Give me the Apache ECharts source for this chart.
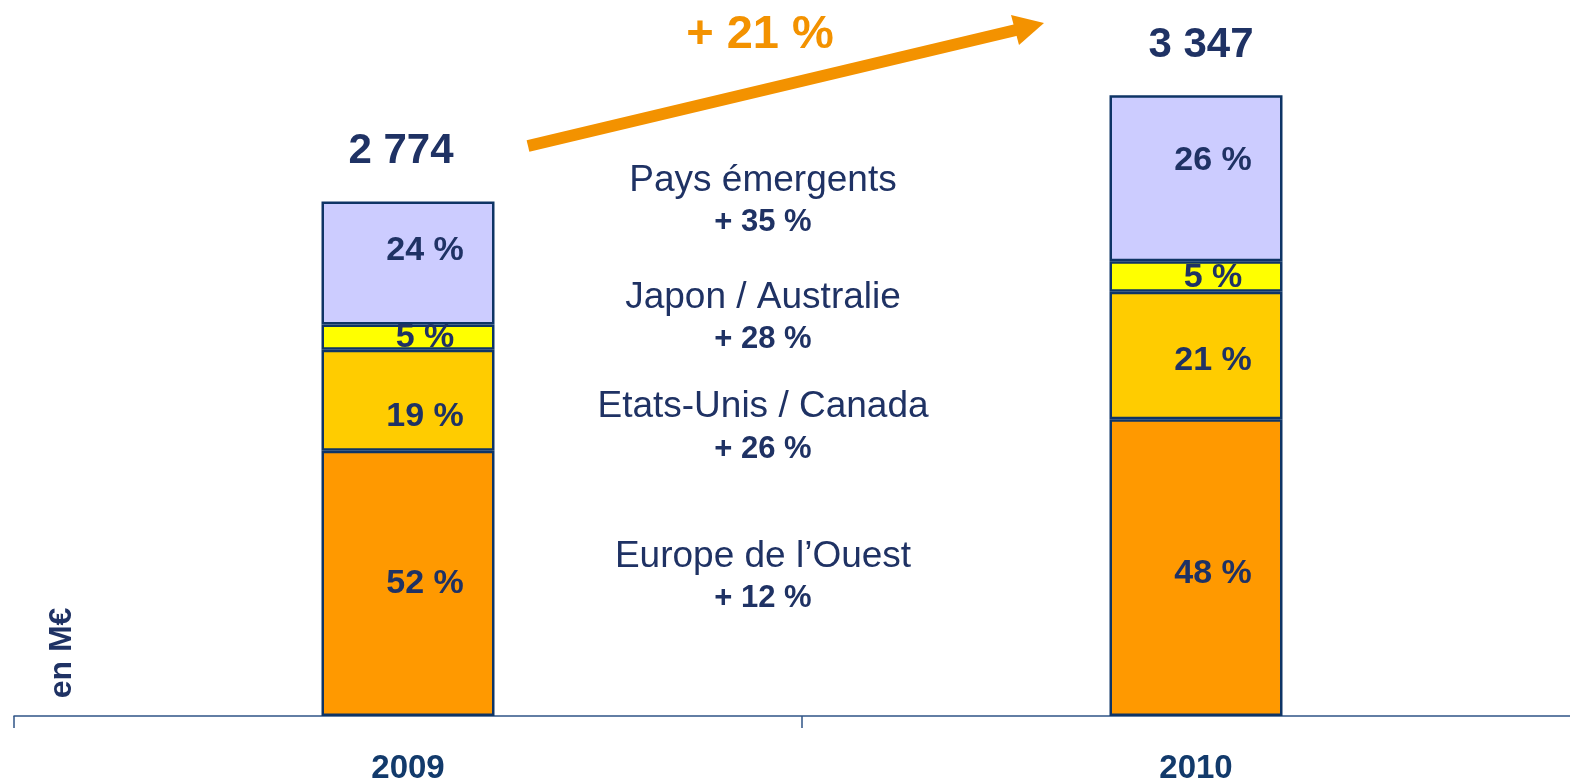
<!DOCTYPE html>
<html>
<head>
<meta charset="utf-8">
<script src="https://cdn.jsdelivr.net/npm/echarts@6/dist/echarts.min.js"></script>
<style>html,body{margin:0;padding:0;background:#fff;}#c{width:1570px;height:780px;}</style>
</head>
<body>
<div id="c"></div>
<script>
// ---- data ----
var categories = ['2009', '2010'];
var seriesNames = ["Europe de l’Ouest", 'Etats-Unis / Canada', 'Japon / Australie', 'Pays émergents'];
var europe = [1430, 1600];
var usCanada = [545, 687];
var japonAustralie = [135, 164];
var emergents = [664, 896];
var europePct = ['52 %', '48 %'];
var usCanadaPct = ['19 %', '21 %'];
var japonPct = ['5 %', '5 %'];
var emergentsPct = ['24 %', '26 %'];
var totals = ['2 774', '3 347'];
var growthLabels = ['+ 12 %', '+ 26 %', '+ 28 %', '+ 35 %'];
var totalGrowth = '+ 21 %';
var unitLabel = 'en M€';

// ---- styles ----
var FONT = '"Liberation Sans", Arial, sans-serif';
var NAVY = '#1F3264';
var BORDER = '#0E3466';
var colors = ['#FF9900', '#FFCC00', '#FFFF00', '#CCCCFF'];
var labelOffsets = [
  [[17, 0], [17, 6]],
  [[17, 16], [17, 5]],
  [[17, 0], [17, 1]],
  [[17, -12], [17, -18]]
];
var totalOffsets = [[-7, 0], [5, 0]];
var valuesList = [europe, usCanada, japonAustralie, emergents];
var pctList = [europePct, usCanadaPct, japonPct, emergentsPct];

var chart = echarts.init(document.getElementById('c'));

var series = valuesList.map(function (vals, si) {
  return {
    name: seriesNames[si],
    type: 'bar',
    stack: 'total',
    barWidth: 173,
    itemStyle: { color: colors[si], borderColor: BORDER, borderWidth: 2.5 },
    data: vals.map(function (v, i) {
      return {
        value: v,
        label: {
          show: true,
          position: 'inside',
          offset: labelOffsets[si][i],
          formatter: pctList[si][i],
          fontFamily: FONT,
          fontWeight: 'bold',
          fontSize: 34,
          color: NAVY
        }
      };
    })
  };
});

series.push({
  name: 'Total',
  type: 'bar',
  stack: 'total',
  barWidth: 173,
  itemStyle: { color: 'transparent', borderWidth: 0 },
  data: totals.map(function (t, i) {
    return {
      value: 0,
      label: {
        show: true,
        position: 'top',
        distance: 29,
        offset: totalOffsets[i],
        formatter: t,
        fontFamily: FONT,
        fontWeight: 'bold',
        fontSize: 42,
        color: NAVY
      }
    };
  })
});

var midX = 763;
var regionYs = [557, 407, 298, 181];
var growthYs = [598, 449, 339, 222];
var graphics = [];
seriesNames.forEach(function (n, i) {
  graphics.push({
    type: 'text', x: midX, y: regionYs[i],
    style: { text: n, font: '37px ' + FONT, fill: NAVY, align: 'center', verticalAlign: 'middle' }
  });
  graphics.push({
    type: 'text', x: midX, y: growthYs[i],
    style: { text: growthLabels[i], font: 'bold 31px ' + FONT, fill: NAVY, align: 'center', verticalAlign: 'middle' }
  });
});
graphics.push({
  type: 'line',
  shape: { x1: 528, y1: 146, x2: 1016, y2: 30 },
  style: { stroke: '#F39200', lineWidth: 12 }
});
graphics.push({
  type: 'polygon',
  shape: { points: [[1044, 23], [1011, 15], [1019, 45]] },
  style: { fill: '#F39200' }
});
graphics.push({
  type: 'text', x: 760, y: 35,
  style: { text: totalGrowth, font: 'bold 47px ' + FONT, fill: '#F39200', align: 'center', verticalAlign: 'middle' }
});
graphics.push({
  type: 'text', x: 62, y: 653, rotation: Math.PI / 2,
  style: { text: unitLabel, font: 'bold 32px ' + FONT, fill: NAVY, align: 'center', verticalAlign: 'middle' }
});

chart.setOption({
  animation: false,
  backgroundColor: '#fff',
  grid: { left: 14, right: -20, top: 0, bottom: 64, containLabel: false, outerBoundsMode: 'none' },
  xAxis: {
    type: 'category',
    data: categories,
    axisLine: { lineStyle: { color: '#2F5486', width: 1.5 } },
    axisTick: { show: true, length: 12, lineStyle: { color: '#2F5486', width: 1.5 } },
    axisLabel: { margin: 36, fontFamily: FONT, fontWeight: 'bold', fontSize: 33, color: '#123A6B' }
  },
  yAxis: {
    type: 'value', min: 0, max: 3860, show: false,
    splitLine: { show: false }
  },
  series: series,
  graphic: graphics
});
</script>
</body>
</html>
